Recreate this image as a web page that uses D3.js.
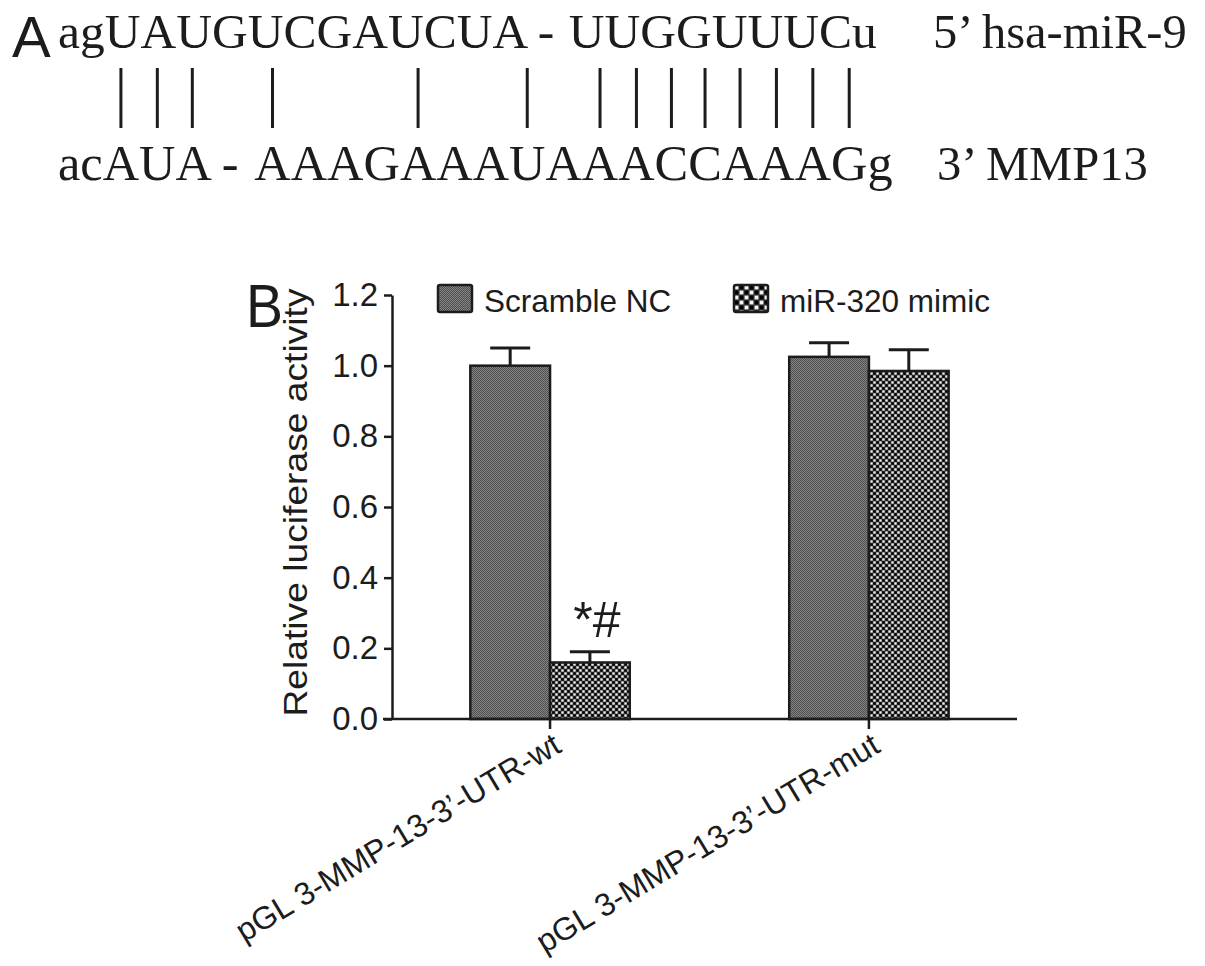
<!DOCTYPE html>
<html><head><meta charset="utf-8">
<script src="https://cdn.jsdelivr.net/npm/d3@7"></script>
<style>body{margin:0;background:#fff}svg{display:block}</style>
</head><body><svg id="c" width="1205" height="966"></svg>
<script>
// ---------- data ----------
const mirSeq = ["agUAUGUCGAUCUA - ", "UUGGUUUCu"];
const mirLabel = "5’ hsa-miR-9";
const targetSeq = ["acAUA - ", "AAAGAAAUAAACCAAAGg"];
const targetLabel = "3’ MMP13";
const pairedIndex = [2, 3, 4, 8, 12, 15, 17, 18, 19, 20, 21, 22, 23, 24];

const groups = ["pGL 3-MMP-13-3’-UTR-wt", "pGL 3-MMP-13-3’-UTR-mut"];
const seriesNames = ["Scramble NC", "miR-320 mimic"];
const scrambleValues = [1.0, 1.025];
const scrambleErrors = [0.05, 0.04];
const mimicValues = [0.16, 0.985];
const mimicErrors = [0.03, 0.06];
const yTicks = [0, 0.2, 0.4, 0.6, 0.8, 1.0, 1.2];
const yTitle = "Relative luciferase activity";
const annotations = [{ group: 0, series: 1, text: "*#" }];

// ---------- setup ----------
const svg = d3.select("#c");
const SANS = "'Liberation Sans', Arial, sans-serif";
const SERIF = "'Liberation Serif', 'Times New Roman', serif";
const INK = "#1c1c1c";

const defs = svg.append("defs");
function checker(id, size, bg, dark, light) {
  const p = defs.append("pattern").attr("id", id).attr("patternUnits", "userSpaceOnUse")
    .attr("width", size).attr("height", size);
  p.append("rect").attr("width", size).attr("height", size).attr("fill", bg);
  const h = size / 2, s = size * 0.38, o = (h - s) / 2;
  p.append("rect").attr("x", o).attr("y", o).attr("width", s).attr("height", s).attr("fill", light);
  p.append("rect").attr("x", h + o).attr("y", h + o).attr("width", s).attr("height", s).attr("fill", light);
  p.append("rect").attr("x", h + o).attr("y", o).attr("width", s).attr("height", s).attr("fill", dark);
  p.append("rect").attr("x", o).attr("y", h + o).attr("width", s).attr("height", s).attr("fill", dark);
}
const ps = defs.append("pattern").attr("id", "pScr").attr("patternUnits", "userSpaceOnUse")
  .attr("width", 2).attr("height", 2);
ps.append("rect").attr("width", 2).attr("height", 2).attr("fill", "#838383");
ps.append("rect").attr("width", 1).attr("height", 1).attr("fill", "#505050");
ps.append("rect").attr("x", 1).attr("y", 1).attr("width", 1).attr("height", 1).attr("fill", "#505050");
checker("pMim", 6, "#3a3a3a", "#000", "#f4f4f4");
checker("pMimL", 10, "#3a3a3a", "#000", "#f4f4f4");
const fills = ["url(#pScr)", "url(#pMim)"];
const legendFills = ["url(#pScr)", "url(#pMimL)"];

// ---------- Panel A ----------
svg.append("text").attr("x", 12).attr("y", 57).attr("font-family", SANS)
  .attr("font-size", 58).attr("fill", INK).text("A");

const mirText = svg.append("text").attr("x", 58).attr("y", 48).attr("font-family", SERIF)
  .attr("font-size", 49.5).attr("fill", INK).attr("xml:space", "preserve");
mirText.append("tspan").text(mirSeq[0]);
mirText.append("tspan").attr("dx", 2).text(mirSeq[1]);
svg.append("text").attr("x", 933).attr("y", 48).attr("font-family", SERIF)
  .attr("font-size", 48.5).attr("fill", INK).text(mirLabel);

const tgt = svg.append("text").attr("x", 58).attr("y", 180).attr("font-family", SERIF)
  .attr("font-size", 50.4).attr("fill", INK).attr("xml:space", "preserve");
tgt.append("tspan").text(targetSeq[0]);
tgt.append("tspan").attr("dx", 6).text(targetSeq[1]);
svg.append("text").attr("x", 937).attr("y", 180).attr("font-family", SERIF)
  .attr("font-size", 48.5).attr("fill", INK).text(targetLabel);

const tnode = tgt.node();
svg.append("g").selectAll("line").data(pairedIndex).join("line")
  .each(function (i) {
    const ext = tnode.getExtentOfChar(i);
    const cx = ext.x + ext.width / 2;
    d3.select(this).attr("x1", cx).attr("x2", cx);
  })
  .attr("y1", 68).attr("y2", 128)
  .attr("stroke", INK).attr("stroke-width", 3);

// ---------- Panel B ----------
const y = d3.scaleLinear().domain([0, 1.2]).range([719, 295]);
const x0 = d3.scaleBand().domain(groups).range([392, 1017])
  .paddingInner(0.5).paddingOuter(0.23).align(0.534);
const x1 = d3.scaleBand().domain(seriesNames).range([0, x0.bandwidth()]);

const data = groups.map((g, gi) => [
  { g, s: seriesNames[0], si: 0, v: scrambleValues[gi], e: scrambleErrors[gi] },
  { g, s: seriesNames[1], si: 1, v: mimicValues[gi], e: mimicErrors[gi] }
]).flat();

svg.append("text").attr("x", 246).attr("y", 327).attr("font-family", SANS)
  .attr("font-size", 62).attr("fill", INK).attr("textLength", 37)
  .attr("lengthAdjust", "spacingAndGlyphs").text("B");

// error bars
const eg = svg.append("g").attr("stroke", INK).attr("stroke-width", 3);
data.forEach(d => {
  const cx = x0(d.g) + x1(d.s) + x1.bandwidth() / 2;
  eg.append("line").attr("x1", cx).attr("x2", cx).attr("y1", y(d.v)).attr("y2", y(d.v + d.e));
  eg.append("line").attr("x1", cx - 20).attr("x2", cx + 20).attr("y1", y(d.v + d.e)).attr("y2", y(d.v + d.e));
});

// bars
svg.append("g").selectAll("rect").data(data).join("rect")
  .attr("x", d => x0(d.g) + x1(d.s))
  .attr("y", d => y(d.v))
  .attr("width", x1.bandwidth())
  .attr("height", d => y(0) - y(d.v))
  .attr("fill", d => fills[d.si])
  .attr("stroke", INK).attr("stroke-width", 2.5);

// y axis
const yAxis = svg.append("g").attr("transform", "translate(392,0)")
  .call(d3.axisLeft(y).tickValues(yTicks).tickFormat(d3.format(".1f"))
    .tickSize(8).tickSizeOuter(0).tickPadding(6));
yAxis.select(".domain").attr("stroke", INK).attr("stroke-width", 2.5);
yAxis.selectAll(".tick line").attr("stroke", INK).attr("stroke-width", 2.5);
yAxis.selectAll(".tick text").attr("font-family", SANS).attr("font-size", 33).attr("fill", INK);

// x axis
const xAxis = svg.append("g").attr("transform", "translate(0,719)")
  .call(d3.axisBottom(x0).tickSize(10).tickSizeOuter(0).tickFormat(""));
xAxis.select(".domain").remove();
xAxis.selectAll(".tick line").attr("stroke", INK).attr("stroke-width", 2.5);
svg.append("line").attr("x1", 383).attr("x2", 1017).attr("y1", y(0)).attr("y2", y(0))
  .attr("stroke", INK).attr("stroke-width", 2.5);
svg.append("g").selectAll("text").data(groups).join("text")
  .attr("transform", g => `translate(${x0(g) + x0.bandwidth() / 2 + 13},751) rotate(-31)`)
  .attr("text-anchor", "end").attr("font-family", SANS).attr("font-size", 32)
  .attr("fill", INK).text(g => g);

// y title
svg.append("text").attr("transform", "translate(307,502.5) rotate(-90)")
  .attr("text-anchor", "middle").attr("font-family", SANS).attr("font-size", 33)
  .attr("textLength", 428).attr("lengthAdjust", "spacingAndGlyphs")
  .attr("fill", INK).text(yTitle);

// legend
const legX = [438, 734];
const leg = svg.append("g").selectAll("g").data(seriesNames).join("g")
  .attr("transform", (d, i) => `translate(${legX[i]},285)`);
leg.append("rect").attr("width", 34).attr("height", 27).attr("rx", 2)
  .attr("fill", (d, i) => legendFills[i]).attr("stroke", INK).attr("stroke-width", 2.5);
leg.append("text").attr("x", 46).attr("y", 27).attr("font-family", SANS)
  .attr("font-size", 31.5).attr("fill", INK).text(d => d);

// significance annotation
annotations.forEach(a => {
  const d = data.find(r => r.g === groups[a.group] && r.si === a.series);
  const cx = x0(d.g) + x1(d.s) + x1.bandwidth() / 2;
  svg.append("text").attr("x", cx + 7).attr("y", y(d.v + d.e) - 15)
    .attr("text-anchor", "middle").attr("font-family", SANS).attr("font-size", 50)
    .attr("fill", INK).text(a.text);
});
</script></body></html>
